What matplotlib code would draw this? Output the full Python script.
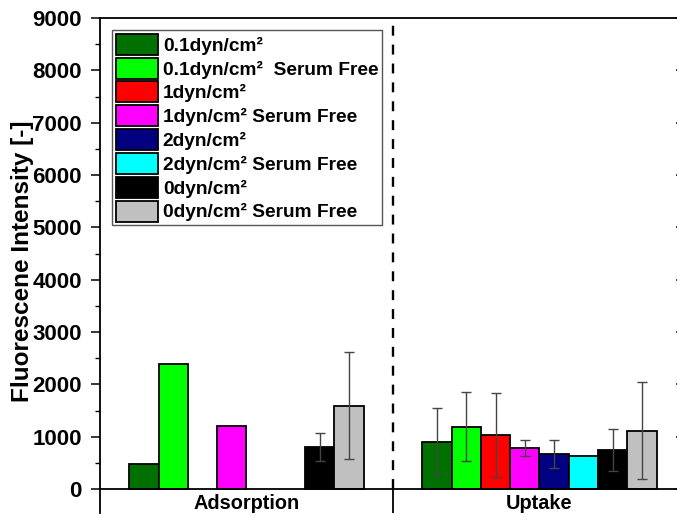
import matplotlib
matplotlib.use('Agg')
import matplotlib.pyplot as plt
import numpy as np

plt.rcParams['font.family'] = ['Liberation Sans', 'DejaVu Sans']
plt.rcParams['font.weight'] = 'bold'

groups = ['Adsorption', 'Uptake']
series = ['0.1dyn/cm²', '0.1dyn/cm²  Serum Free', '1dyn/cm²', '1dyn/cm² Serum Free',
          '2dyn/cm²', '2dyn/cm² Serum Free', '0dyn/cm²', '0dyn/cm² Serum Free']
colors = ['#007000', '#00ff00', '#ff0000', '#ff00ff',
          '#000080', '#00ffff', '#000000', '#c0c0c0']

# one row per series: [adsorption, uptake]
means = np.array([
    [480, 905],
    [2380, 1190],
    [np.nan, 1035],
    [1210, 790],
    [np.nan, 665],
    [np.nan, 630],
    [800, 745],
    [1590, 1115],
])
errors = np.array([
    [np.nan, 640],
    [np.nan, 660],
    [np.nan, 805],
    [np.nan, 153],
    [np.nan, 267],
    [np.nan, np.nan],
    [268, 395],
    [1020, 924],
])

fig = plt.figure(figsize=(6.77, 5.18), dpi=100)
ax = fig.add_axes([0.14771, 0.00946, 0.86558, 0.95579])

x = np.array([1, 2])
width = 0.1
handles = []
for k in range(len(series)):
    pos = x + (k - 3.5) * width
    b = ax.bar(pos, means[k], width, color=colors[k], edgecolor='black',
               linewidth=1.3, label=series[k], zorder=2)
    handles.append(b)
    ax.errorbar(pos, means[k], yerr=errors[k], fmt='none', ecolor='#444444',
                elinewidth=1.0, capsize=3.6, capthick=1.0, zorder=3)

ax.set_xlim(0.5, 2.5)
ax.set_ylim(-460, 9000)

# group separator
ax.plot([1.5, 1.5], [0, 9000], color='black', lw=1.7,
        linestyle=(0, (4.2, 3.8)), zorder=1)

ax.spines['bottom'].set_position(('data', 0))
for s in ax.spines.values():
    s.set_linewidth(1.3)

ax.set_yticks(np.arange(0, 9001, 1000))
ax.set_yticks(np.arange(0, 9001, 500), minor=True)
ax.tick_params(axis='y', which='major', direction='out', length=6.5, width=1.1,
               labelsize=16, pad=6.5)
ax.tick_params(axis='y', which='minor', direction='out', length=3.6, width=1.0)

ax.set_xticks([1.5])
ax.set_xticklabels([''])
ax.set_xticks(x, minor=True)
ax.set_xticklabels(groups, minor=True, fontsize=14.3, fontweight='bold')
ax.tick_params(axis='x', which='major', direction='out', length=17.3, width=1.3)
ax.tick_params(axis='x', which='minor', length=0, pad=3.6)

ax.set_ylabel('Fluorescene Intensity [-]', fontsize=17.5, fontweight='bold', va='center')
ax.yaxis.set_label_coords(-0.133, 0.509)

# inward ticks on the right side
axr = ax.secondary_yaxis('right')
axr.set_yticks(np.arange(0, 9001, 1000))
axr.set_yticks(np.arange(0, 9001, 500), minor=True)
axr.tick_params(which='major', direction='in', length=7, width=1.1, labelright=False)
axr.tick_params(which='minor', direction='in', length=3.6, width=1.0)
axr.spines['right'].set_linewidth(1.3)

leg = ax.legend(handles=handles, labels=series, loc='upper left',
                prop={'weight': 'bold', 'size': 13.8},
                handlelength=2.19, handleheight=1.31, labelspacing=0.146,
                borderpad=0.2, borderaxespad=0.626, handletextpad=0.26,
                fancybox=False, framealpha=1, edgecolor='#555555')
leg.get_frame().set_linewidth(1.0)

fig.savefig('out.png', dpi=100)
